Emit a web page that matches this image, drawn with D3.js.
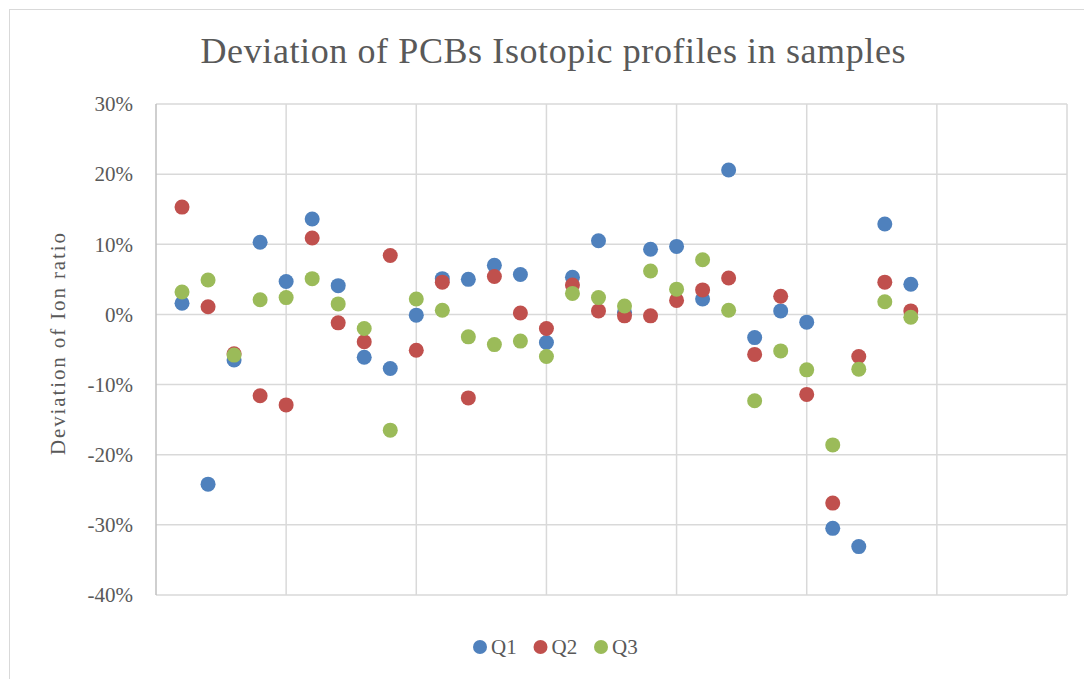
<!doctype html>
<html>
<head>
    <script src="https://d3js.org/d3.v7.min.js"></script>
    <style>
        body { margin: 0; background: #fff; }
        text { font-family: "Liberation Serif", serif; fill: #595959; }
    </style>
</head>
<body>

    <svg width="1084" height="679"></svg>

    <script>
        // sample number 1..29, deviation in %
        var samples = d3.range(1, 30);
        var q1 = [1.6, -24.2, -6.5, 10.3, 4.7, 13.6, 4.1, -6.1, -7.7, -0.1,
                  5.1, 5.0, 7.0, 5.7, -4.0, 5.3, 10.5, 0.3, 9.3, 9.7,
                  2.2, 20.6, -3.3, 0.5, -1.1, -30.5, -33.1, 12.9, 4.3];
        var q2 = [15.3, 1.1, -5.6, -11.6, -12.9, 10.9, -1.2, -3.9, 8.4, -5.1,
                  4.6, -11.9, 5.4, 0.2, -2.0, 4.2, 0.5, -0.2, -0.2, 2.0,
                  3.5, 5.2, -5.7, 2.6, -11.4, -26.9, -6.0, 4.6, 0.5];
        var q3 = [3.2, 4.9, -5.8, 2.1, 2.4, 5.1, 1.5, -2.0, -16.5, 2.2,
                  0.6, -3.2, -4.3, -3.8, -6.0, 3.0, 2.4, 1.2, 6.2, 3.6,
                  7.8, 0.6, -12.3, -5.2, -7.9, -18.6, -7.8, 1.8, -0.4];
        var seriesNames = ["Q1", "Q2", "Q3"];
        var yTicks = [30, 20, 10, 0, -10, -20, -30, -40];
        var xTicks = [0, 5, 10, 15, 20, 25, 30, 35];

        var series = [q1, q2, q3];
        var colors = ["#4f81bd", "#c0504d", "#9bbb59"];

        var svg = d3.select("svg");

        // chart border
        svg.append("rect")
            .attr("x", 9.5).attr("y", 9.5)
            .attr("width", 1100).attr("height", 700)
            .attr("fill", "none")
            .attr("stroke", "#d9d9d9");

        var x = d3.scaleLinear().domain([0, 35]).range([156, 1067]);
        var y = d3.scaleLinear().domain([-40, 30]).range([595, 104]);

        // gridlines
        svg.append("g").selectAll("line.h")
            .data(yTicks)
            .enter().append("line")
            .attr("x1", x(0)).attr("x2", x(35))
            .attr("y1", d => y(d)).attr("y2", d => y(d))
            .attr("stroke", "#d9d9d9")
            .attr("stroke-width", 1.5);

        svg.append("g").selectAll("line.v")
            .data(xTicks)
            .enter().append("line")
            .attr("x1", d => x(d)).attr("x2", d => x(d))
            .attr("y1", y(30)).attr("y2", y(-40))
            .attr("stroke", d => d === 0 ? "#bfbfbf" : "#d9d9d9")
            .attr("stroke-width", 1.5);

        // y axis labels
        svg.append("g").selectAll("text")
            .data(yTicks)
            .enter().append("text")
            .attr("x", 133)
            .attr("y", d => y(d))
            .attr("dy", "0.35em")
            .attr("text-anchor", "end")
            .attr("font-size", "21px")
            .text(d => d + "%");

        // title
        svg.append("text")
            .attr("x", 553)
            .attr("y", 63)
            .attr("text-anchor", "middle")
            .attr("font-size", "36px")
            .attr("textLength", 705)
            .attr("lengthAdjust", "spacing")
            .text("Deviation of PCBs Isotopic profiles in samples");

        // y axis title
        svg.append("text")
            .attr("transform", "translate(65,344) rotate(-90)")
            .attr("text-anchor", "middle")
            .attr("font-size", "21px")
            .attr("textLength", 222)
            .attr("lengthAdjust", "spacing")
            .text("Deviation of Ion ratio");

        // points
        series.forEach(function(vals, s) {
            svg.append("g").selectAll("circle")
                .data(vals)
                .enter().append("circle")
                .attr("cx", (d, i) => x(samples[i]))
                .attr("cy", d => y(d))
                .attr("r", 7.5)
                .attr("fill", colors[s]);
        });

        // legend
        var legend = svg.append("g").attr("transform", "translate(480,647)");
        var items = legend.selectAll("g")
            .data(seriesNames)
            .enter().append("g")
            .attr("transform", (d, i) => "translate(" + (i * 60.5) + ",0)");
        items.append("circle")
            .attr("r", 7)
            .attr("fill", (d, i) => colors[i]);
        items.append("text")
            .attr("x", 11)
            .attr("dy", "0.35em")
            .attr("font-size", "21px")
            .text(d => d);
    </script>
</body>
</html>
